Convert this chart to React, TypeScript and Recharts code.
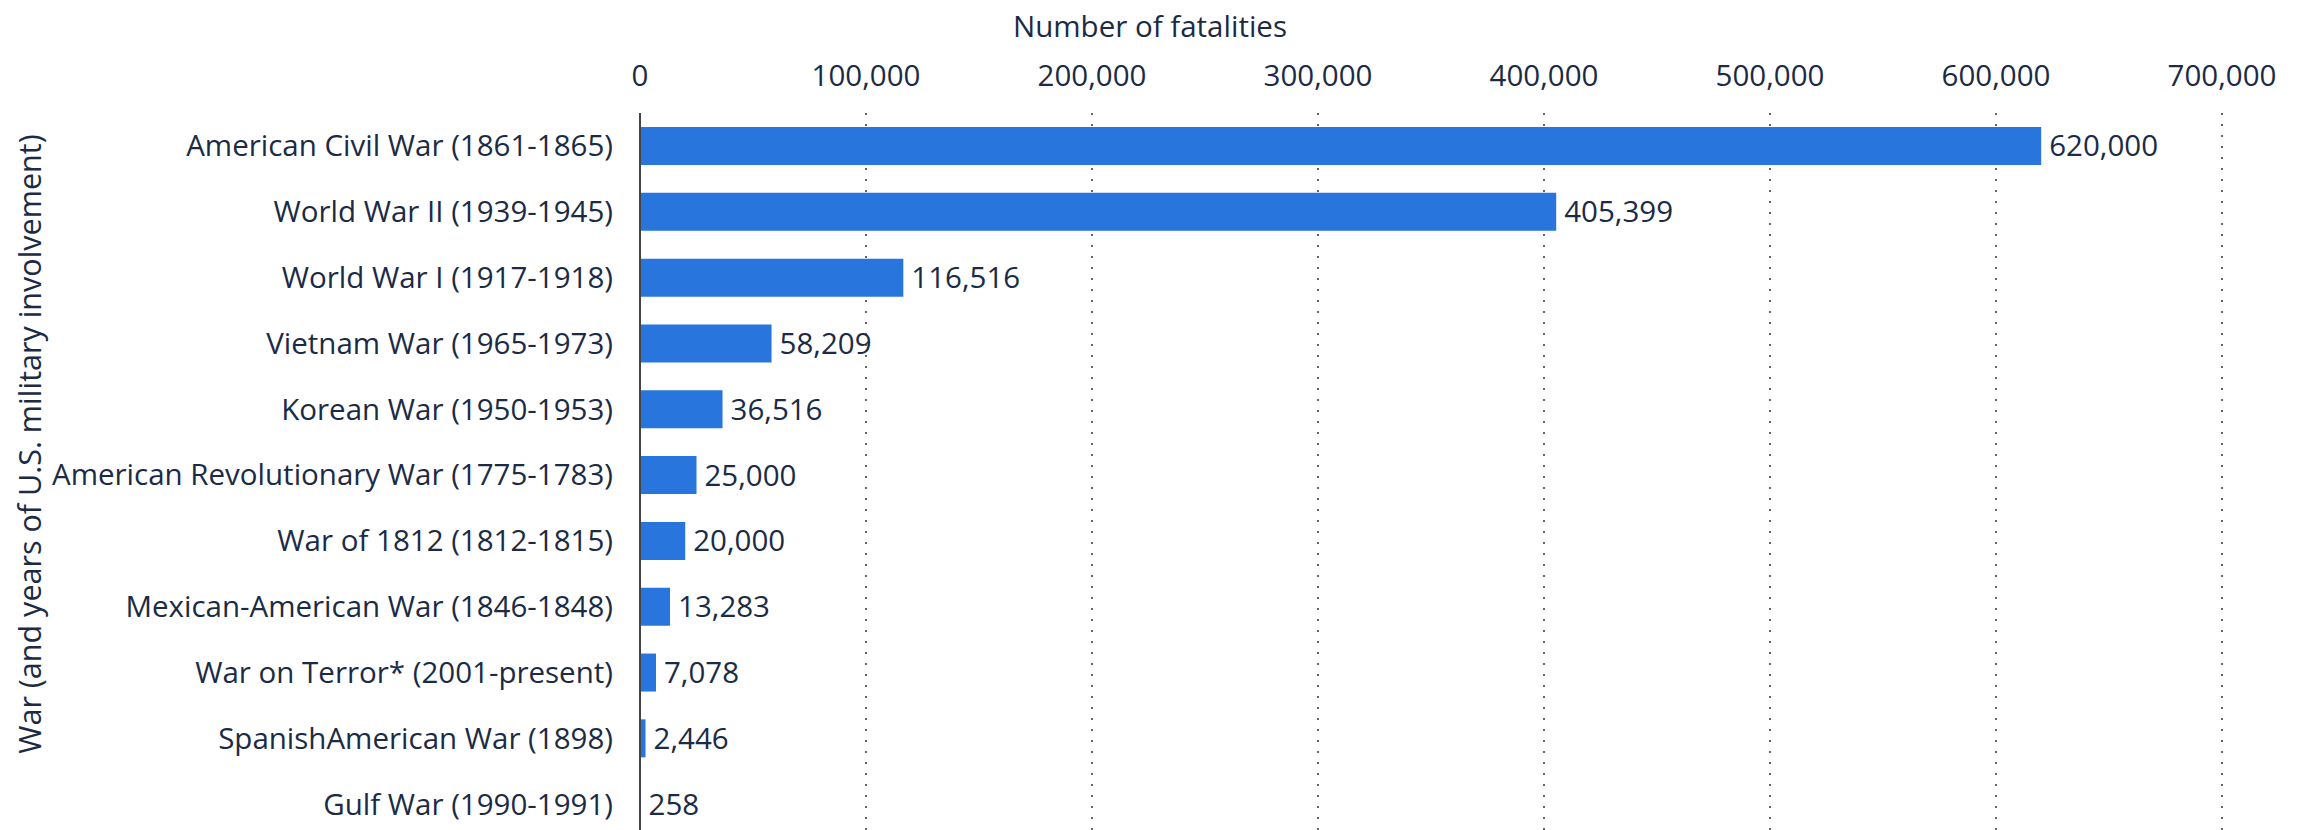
import { BarChart, Bar, XAxis, YAxis, CartesianGrid, LabelList, Label } from "recharts";

const wars = [
  "American Civil War (1861-1865)",
  "World War II (1939-1945)",
  "World War I (1917-1918)",
  "Vietnam War (1965-1973)",
  "Korean War (1950-1953)",
  "American Revolutionary War (1775-1783)",
  "War of 1812 (1812-1815)",
  "Mexican-American War (1846-1848)",
  "War on Terror* (2001-present)",
  "SpanishAmerican War (1898)",
  "Gulf War (1990-1991)",
];

const fatalities = [620000, 405399, 116516, 58209, 36516, 25000, 20000, 13283, 7078, 2446, 258];

const xTicks = [0, 100000, 200000, 300000, 400000, 500000, 600000, 700000];

const data = wars.map((war, i) => ({ war, fatalities: fatalities[i] }));

const font = "'Open Sans', sans-serif";
const ink = "#1b2b46";
const fmt = (v: number) => Number(v).toLocaleString("en-US");

export default function App() {
  return (
    <div style={{ width: 2304, height: 830, overflow: "hidden", fontFamily: font }}>
      <style>{`body{margin:0;overflow:hidden}`}</style>
      <BarChart
        width={2304}
        height={837}
        data={data}
        layout="vertical"
        margin={{ top: 0, right: 82, bottom: 0, left: 0 }}
        barSize={38}
      >
        <CartesianGrid horizontal={false} strokeDasharray="2 9" stroke="#333" strokeWidth={1.5} />
        <XAxis
          type="number"
          orientation="top"
          domain={[0, 700000]}
          ticks={xTicks}
          tickFormatter={fmt}
          axisLine={false}
          tickLine={false}
          tickSize={0}
          tickMargin={27}
          height={113}
          tick={{ fill: ink, fontSize: 29.5, fontFamily: font }}
        >
          <Label
            content={() => (
              <text x={1150} y={25} textAnchor="middle" dominantBaseline="central" fill={ink} fontSize={29.5} fontFamily={font}>
                Number of fatalities
              </text>
            )}
          />
        </XAxis>
        <YAxis
          type="category"
          dataKey="war"
          width={640}
          tickLine={false}
          tickSize={0}
          tickMargin={27}
          axisLine={{ stroke: "#444", strokeWidth: 2 }}
          tick={{ fill: ink, fontSize: 29.5, fontFamily: font }}
          interval={0}
        >
          <Label
            content={() => (
              <text
                transform="translate(29,444) rotate(-90)"
                textAnchor="middle"
                dominantBaseline="central"
                fill={ink}
                fontSize={30.5}
                fontFamily={font}
              >
                War (and years of U.S. military involvement)
              </text>
            )}
          />
        </YAxis>
        <Bar dataKey="fatalities" fill="#2876dd" isAnimationActive={false}>
          <LabelList
            dataKey="fatalities"
            position="right"
            offset={8}
            formatter={fmt}
            style={{ fill: ink, fontSize: 29.5, fontFamily: font }}
          />
        </Bar>
      </BarChart>
    </div>
  );
}
